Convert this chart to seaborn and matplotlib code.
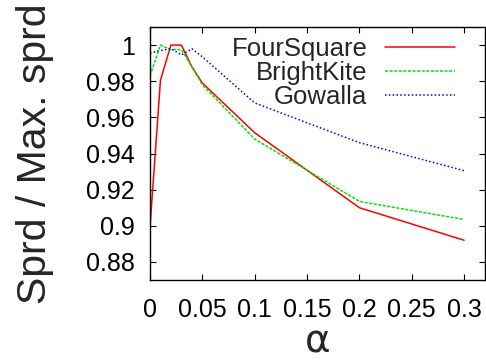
import pandas as pd
import matplotlib
matplotlib.use("Agg")
import matplotlib.pyplot as plt
import seaborn as sns

# values
alpha = [0, 0.01, 0.02, 0.03, 0.04, 0.05, 0.1, 0.2, 0.3]
foursquare = [0.899, 0.9805, 1.0, 1.0, 0.988, 0.979, 0.9515, 0.910, 0.892]
brightkite = [0.983, 1.0, 0.9975, 0.9975, 0.988, 0.978, 0.948, 0.9135, 0.9035]
gowalla = [0.9955, 0.997, 0.998, 0.9945, 0.998, 0.9935, 0.968, 0.946, 0.9305]

x_ticks = [0, 0.05, 0.1, 0.15, 0.2, 0.25, 0.3]
x_labels = ["0", "0.05", "0.1", "0.15", "0.2", "0.25", "0.3"]
y_ticks = [0.88, 0.9, 0.92, 0.94, 0.96, 0.98, 1.0]
y_labels = ["0.88", "0.9", "0.92", "0.94", "0.96", "0.98", "1"]

sns.set_style("ticks")
plt.rcParams["font.family"] = ["Liberation Sans", "DejaVu Sans"]

fig = plt.figure(figsize=(4.86, 3.6), dpi=100)
ax = fig.add_axes([0.3086, 0.2222, 0.6894, 0.7028])

series = [("FourSquare", foursquare, "#ff0000", "-"),
          ("BrightKite", brightkite, "#00e600", (0, (2, 1))),
          ("Gowalla", gowalla, "#0000ff", (0, (1, 1.5)))]

for name, vals, col, ls in series:
    df = pd.DataFrame({"alpha": alpha, "sprd": vals})
    sns.lineplot(data=df, x="alpha", y="sprd", ax=ax, color=col,
                 linestyle=ls, linewidth=1.1, label=name)

ax.set_xlim(0, 0.32)
ax.set_ylim(0.87, 1.01)
ax.set_xticks(x_ticks)
ax.set_xticklabels(x_labels)
ax.set_yticks(y_ticks)
ax.set_yticklabels(y_labels)
ax.tick_params(direction="in", top=True, right=True, length=4, width=0.8,
               labelsize=18, colors="black")
ax.tick_params(axis="x", pad=13)
ax.tick_params(axis="y", pad=11)
for sp in ax.spines.values():
    sp.set_visible(True)
    sp.set_linewidth(1.0)
    sp.set_color("black")

ax.set_xlabel("\u03b1", fontsize=28, family="DejaVu Sans", labelpad=0)
ax.set_ylabel("Sprd / Max. sprd", fontsize=29.5, labelpad=23)

ax.legend(loc="upper right", frameon=False, markerfirst=False, fontsize=18.5,
          handlelength=2.7, labelspacing=0.0, borderaxespad=0.0,
          handletextpad=0.7, bbox_to_anchor=(0.94, 1.0))

fig.savefig("out.png", dpi=100)
